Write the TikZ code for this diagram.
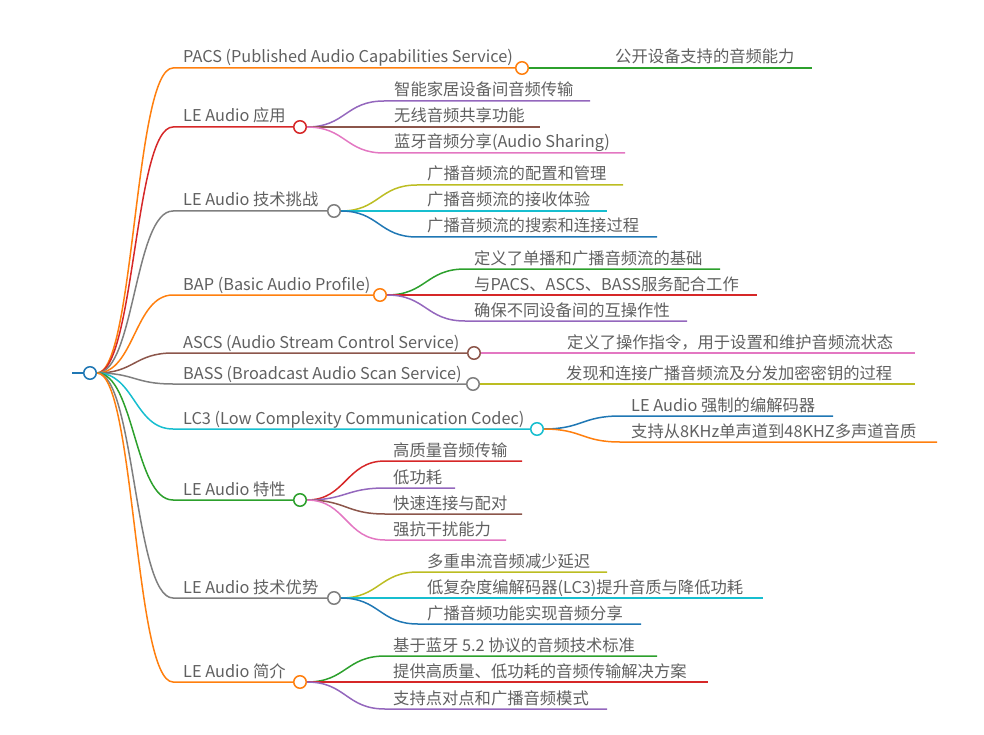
\documentclass[tikz,border=0pt]{standalone}
\usepackage{fontspec}
\setmainfont{Noto Sans CJK SC}
\usetikzlibrary{backgrounds,calc}
\definecolor{cOrange}{HTML}{FF7F0E}
\definecolor{cRed}{HTML}{D62728}
\definecolor{cGray}{HTML}{7F7F7F}
\definecolor{cBrown}{HTML}{8C564B}
\definecolor{cCyan}{HTML}{17BECF}
\definecolor{cGreen}{HTML}{2CA02C}
\definecolor{cPurple}{HTML}{9467BD}
\definecolor{cPink}{HTML}{E377C2}
\definecolor{cOlive}{HTML}{BCBD22}
\definecolor{cBlue}{HTML}{1F77B4}
\definecolor{txt}{HTML}{606060}
\tikzset{
  dot/.style={circle,draw=#1,fill=white,line width=1.5pt,minimum size=12.5pt,inner sep=0pt},
  lbl/.style={anchor=base west,inner sep=0pt,text=txt,font=\fontsize{16.3}{19}\selectfont},
  edge/.style={draw=#1,line width=1.5pt},
}
\newcommand{\mainbranch}[5]{% name, color, y, circle x, label
  \node[dot=#2] (#1) at (#4,#3) {};
  \node[lbl] (#1t) at (183,#3-5) {#5};
  \begin{scope}[on background layer]
    \coordinate (#1h) at (173,#3);
    \draw[edge=#2] (root.east) .. controls (134.5,373) and (134.5,#3) .. (#1h) -- (#1.west);
  \end{scope}}
\newcommand{\childbranch}[8]{% name, parent, color, y, hstart, textx, endx, label
  \node[lbl] (#1) at (#6,#4-5) {#8};
  \coordinate (#1h) at (#5,#4);
  \coordinate (#1e) at (#7,#4);
  \begin{scope}[on background layer]
    \draw[edge=#3] let \p1=(#2.east), \p2=(#1h) in
      (\p1) .. controls ({(\x1+\x2)/2},\y1) and ({(\x1+\x2)/2},\y2) .. (#1h) -- (#1e);
  \end{scope}}
\begin{document}
\begin{tikzpicture}[x=1pt,y=-1pt]
\useasboundingbox (0,0) rectangle (984,735);
\node[dot=cBlue] (root) at (90,373) {};
\coordinate (rootin) at (72,373);
\begin{scope}[on background layer]
\draw[edge=cBlue] (rootin) -- (root.west);
\end{scope}
\mainbranch{pacs}{cOrange}{68}{522}{PACS (Published Audio Capabilities Service)}
\mainbranch{app}{cRed}{127}{300}{LE Audio 应用}
\mainbranch{chal}{cGray}{211}{334}{LE Audio 技术挑战}
\mainbranch{bap}{cOrange}{295}{380}{BAP (Basic Audio Profile)}
\mainbranch{ascs}{cBrown}{353}{474}{ASCS (Audio Stream Control Service)}
\mainbranch{bass}{cGray}{384}{473}{BASS (Broadcast Audio Scan Service)}
\mainbranch{lc}{cCyan}{429}{537}{LC3 (Low Complexity Communication Codec)}
\mainbranch{feat}{cGreen}{500}{300}{LE Audio 特性}
\mainbranch{adv}{cGray}{598}{334}{LE Audio 技术优势}
\mainbranch{intro}{cOrange}{682}{300}{LE Audio 简介}
% children
\childbranch{p1}{pacs}{cGreen}{68}{606}{615}{812}{公开设备支持的音频能力}
\childbranch{a1}{app}{cPurple}{101}{384}{394}{590}{智能家居设备间音频传输}
\childbranch{a2}{app}{cBrown}{127}{384}{394}{540}{无线音频共享功能}
\childbranch{a3}{app}{cPink}{153}{384}{394}{625}{蓝牙音频分享(Audio Sharing)}
\childbranch{c1}{chal}{cOlive}{185}{417}{427}{623}{广播音频流的配置和管理}
\childbranch{c2}{chal}{cCyan}{211}{417}{427}{607}{广播音频流的接收体验}
\childbranch{c3}{chal}{cBlue}{237}{417}{427}{657}{广播音频流的搜索和连接过程}
\childbranch{b1}{bap}{cGreen}{269}{465}{474}{720}{定义了单播和广播音频流的基础}
\childbranch{b2}{bap}{cRed}{295}{465}{474}{757}{与PACS、ASCS、BASS服务配合工作}
\childbranch{b3}{bap}{cPurple}{321}{465}{474}{687}{确保不同设备间的互操作性}
\childbranch{s1}{ascs}{cPink}{353}{558}{567}{915}{定义了操作指令，用于设置和维护音频流状态}
\childbranch{s2}{bass}{cOlive}{384}{557}{566}{915}{发现和连接广播音频流及分发加密密钥的过程}
\childbranch{l1}{lc}{cBlue}{416}{620}{631}{833}{LE Audio 强制的编解码器}
\childbranch{l2}{lc}{cOrange}{442}{620}{631}{937}{支持从8KHz单声道到48KHZ多声道音质}
\childbranch{f1}{feat}{cRed}{461}{385}{393}{522}{高质量音频传输}
\childbranch{f2}{feat}{cPurple}{488}{385}{393}{455}{低功耗}
\childbranch{f3}{feat}{cBrown}{514}{385}{393}{522}{快速连接与配对}
\childbranch{f4}{feat}{cPink}{540}{385}{393}{506}{强抗干扰能力}
\childbranch{v1}{adv}{cOlive}{572}{418}{427}{607}{多重串流音频减少延迟}
\childbranch{v2}{adv}{cCyan}{598}{418}{427}{763}{低复杂度编解码器(LC3)提升音质与降低功耗}
\childbranch{v3}{adv}{cBlue}{624}{418}{427}{641}{广播音频功能实现音频分享}
\childbranch{i1}{intro}{cGreen}{656}{385}{393}{657}{基于蓝牙 5.2 协议的音频技术标准}
\childbranch{i2}{intro}{cRed}{682}{385}{393}{708}{提供高质量、低功耗的音频传输解决方案}
\childbranch{i3}{intro}{cPurple}{709}{385}{393}{607}{支持点对点和广播音频模式}
\end{tikzpicture}
\end{document}
